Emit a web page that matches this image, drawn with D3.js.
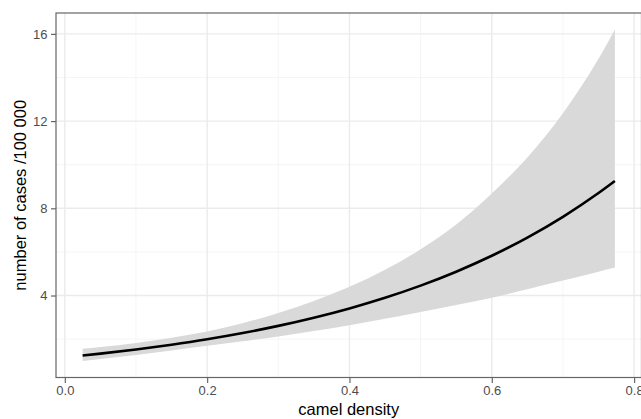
<!DOCTYPE html>
<html>
<head>
<meta charset="utf-8">
<script src="https://cdn.jsdelivr.net/npm/d3@7"></script>
<style>
  body { margin: 0; background: #fff; }
  svg { display: block; font-family: "Liberation Sans", Arial, sans-serif; }
</style>
</head>
<body>
<div id="chart"></div>
<script>
// values
const density = [0.025, 0.05, 0.1, 0.15, 0.2, 0.25, 0.3, 0.35, 0.4, 0.45, 0.5, 0.55, 0.6, 0.65, 0.7, 0.75, 0.773];
const fitCases = [1.25, 1.335, 1.526, 1.745, 1.994, 2.28, 2.607, 2.981, 3.408, 3.896, 4.454, 5.092, 5.822, 6.656, 7.61, 8.7, 9.252];
const upperCases = [1.555, 1.639, 1.827, 2.064, 2.352, 2.73, 3.2, 3.752, 4.398, 5.181, 6.122, 7.262, 8.685, 10.335, 12.36, 14.854, 16.198];
const lowerCases = [1.0, 1.088, 1.275, 1.475, 1.691, 1.904, 2.124, 2.369, 2.641, 2.93, 3.241, 3.57, 3.903, 4.287, 4.685, 5.095, 5.285];
const xTicks = [0, 0.2, 0.4, 0.6, 0.8];
const xMinor = [0.1, 0.3, 0.5, 0.7];
const yTicks = [4, 8, 12, 16];
const yMinor = [2, 6, 10, 14];

const W = 641, H = 419;
const MARGIN = { TOP: 13, RIGHT: -0.5, BOTTOM: 41.5, LEFT: 56 };
const WIDTH = W - MARGIN.LEFT - MARGIN.RIGHT;
const HEIGHT = H - MARGIN.TOP - MARGIN.BOTTOM;

const rows = density.map((d, i) => ({ x: d, fit: fitCases[i], lo: lowerCases[i], hi: upperCases[i] }));

const svg = d3.select("#chart")
  .append("svg")
    .attr("width", W)
    .attr("height", H);

const g = svg.append("g")
    .attr("transform", `translate(${MARGIN.LEFT}, ${MARGIN.TOP})`);

// ggplot style 5% expansion
const xSpan = d3.max(density) - d3.min(density);
const x = d3.scaleLinear()
    .domain([d3.min(density) - xSpan * 0.05, d3.max(density) + xSpan * 0.05])
    .range([0, WIDTH]);

const yLo = d3.min(lowerCases), yHi = d3.max(upperCases);
const ySpan = yHi - yLo;
const y = d3.scaleLinear()
    .domain([yLo - ySpan * 0.05, yHi + ySpan * 0.05])
    .range([HEIGHT, 0]);

// grid
g.append("g").selectAll("line").data(xMinor).join("line")
    .attr("x1", d => x(d)).attr("x2", d => x(d))
    .attr("y1", 0).attr("y2", HEIGHT)
    .attr("stroke", "#f2f2f2").attr("stroke-width", 0.8);
g.append("g").selectAll("line").data(yMinor).join("line")
    .attr("y1", d => y(d)).attr("y2", d => y(d))
    .attr("x1", 0).attr("x2", WIDTH)
    .attr("stroke", "#f2f2f2").attr("stroke-width", 0.8);
g.append("g").selectAll("line").data(xTicks).join("line")
    .attr("x1", d => x(d)).attr("x2", d => x(d))
    .attr("y1", 0).attr("y2", HEIGHT)
    .attr("stroke", "#ebebeb").attr("stroke-width", 1.4);
g.append("g").selectAll("line").data(yTicks).join("line")
    .attr("y1", d => y(d)).attr("y2", d => y(d))
    .attr("x1", 0).attr("x2", WIDTH)
    .attr("stroke", "#ebebeb").attr("stroke-width", 1.4);

// confidence band
const band = d3.area()
    .x(d => x(d.x))
    .y0(d => y(d.lo))
    .y1(d => y(d.hi))
    .curve(d3.curveMonotoneX);

g.append("path")
    .datum(rows)
    .attr("d", band)
    .attr("fill", "#d9d9d9");

// fitted line
const line = d3.line()
    .x(d => x(d.x))
    .y(d => y(d.fit))
    .curve(d3.curveMonotoneX);

g.append("path")
    .datum(rows)
    .attr("d", line)
    .attr("fill", "none")
    .attr("stroke", "#000")
    .attr("stroke-width", 2.6);

// panel border
g.append("rect")
    .attr("x", 0).attr("y", 0)
    .attr("width", WIDTH).attr("height", HEIGHT)
    .attr("fill", "none")
    .attr("stroke", "#666").attr("stroke-width", 1.2);

// axes
const xAxisCall = d3.axisBottom(x).tickValues(xTicks).tickFormat(d3.format(".1f")).tickSize(5.5).tickPadding(3);
const xAxis = g.append("g")
    .attr("transform", `translate(0, ${HEIGHT})`)
    .call(xAxisCall);

const yAxisCall = d3.axisLeft(y).tickValues(yTicks).tickSize(5).tickPadding(3.5);
const yAxis = g.append("g").call(yAxisCall);

[xAxis, yAxis].forEach(a => {
  a.select(".domain").remove();
  a.selectAll(".tick line").attr("stroke", "#666").attr("stroke-width", 1.2);
  a.selectAll(".tick text")
    .attr("fill", "#4d4d4d")
    .style("font-size", "13px")
    .style("font-family", "\"Liberation Sans\", Arial, sans-serif");
});

svg.append("text")
    .attr("x", MARGIN.LEFT + WIDTH / 2)
    .attr("y", 414.5)
    .attr("text-anchor", "middle")
    .attr("fill", "#000")
    .style("font-size", "16.5px")
    .text("camel density");

svg.append("text")
    .attr("transform", `translate(25.5, ${MARGIN.TOP + HEIGHT / 2}) rotate(-90)`)
    .attr("text-anchor", "middle")
    .attr("fill", "#000")
    .style("font-size", "16.5px")
    .text("number of cases /100 000");
</script>
</body>
</html>
